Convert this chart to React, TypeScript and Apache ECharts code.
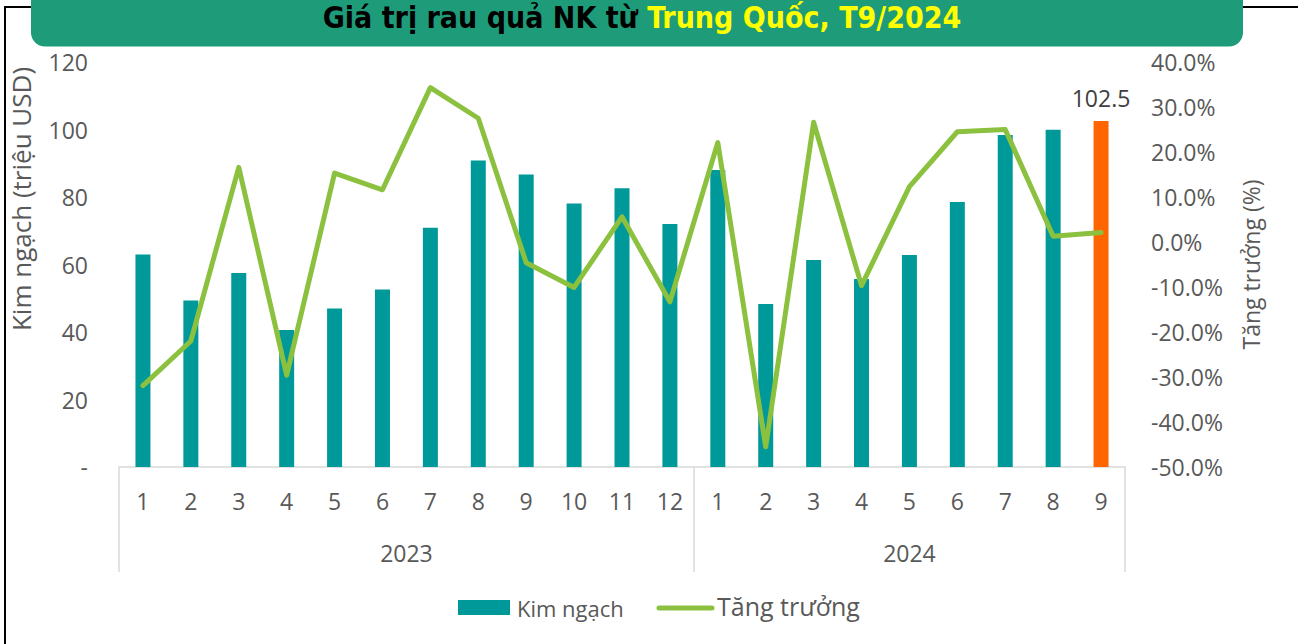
import React, { useEffect, useRef } from "react";
import * as echarts from "echarts";

const months = ["1","2","3","4","5","6","7","8","9","10","11","12","1","2","3","4","5","6","7","8","9"];
const years = ["2023", "2024"];
const yearCounts = [12, 9];
const kimNgach = [63.0, 49.3, 57.5, 40.6, 47.0, 52.6, 70.9, 90.8, 86.7, 78.1, 82.6, 72.0, 88.0, 48.3, 61.3, 55.7, 62.8, 78.5, 98.4, 99.9, 102.5];
const tangTruong = [-31.9, -22.0, 16.6, -29.6, 15.3, 11.6, 34.3, 27.5, -4.6, -10.1, 5.6, -13.3, 22.1, -45.5, 26.6, -9.7, 12.3, 24.5, 25.0, 1.3, 2.1];
const leftTicks = { min: 0, max: 120, interval: 20 };
const rightTicks = { min: -50, max: 40, interval: 10 };

const TEAL = "#009999";
const ORANGE = "#FF6600";
const GREEN = "#8cc13f";
const GREY = "#595959";
const FONT = "'Open Sans', sans-serif";
const TITLE_FONT = "'Liberation Sans Narrow', 'DejaVu Sans Condensed', sans-serif";

export default function App() {
  const ref = useRef<HTMLDivElement>(null);
  useEffect(() => {
    if (!ref.current) return;
    const chart = echarts.init(ref.current, null, { renderer: "svg" });
    const last = kimNgach.length - 1;
    const barData = kimNgach.map((v, i) =>
      i === last
        ? {
            value: v,
            itemStyle: { color: ORANGE },
            label: { show: true, position: "top", distance: 12, color: "#404040", fontSize: 23, fontFamily: FONT },
          }
        : v
    );
    const bounds: number[] = [0];
    const centers: number[] = [];
    let acc = 0;
    yearCounts.forEach((c) => {
      centers.push(acc + c / 2);
      acc += c;
      bounds.push(acc);
    });
    const total = acc;

    chart.setOption({
      animation: false,
      backgroundColor: "#ffffff",
      title: {
        text: "{a|Giá trị rau quả NK từ }{b|Trung Quốc, T9/2024}",
        left: 637,
        top: -3,
        textAlign: "center",
        z: 10,
        textStyle: {
          rich: {
            a: { color: "#000000", fontSize: 30, fontWeight: "bold", fontFamily: TITLE_FONT },
            b: { color: "#FFFF00", fontSize: 30, fontWeight: "bold", fontFamily: TITLE_FONT },
          },
        },
      },
      grid: { left: 119, right: 173, top: 62, bottom: 177, containLabel: false },
      xAxis: [
        {
          type: "category",
          data: months,
          position: "bottom",
          axisLine: { show: true, onZero: false, lineStyle: { color: "#d9d9d9", width: 1.5 } },
          axisTick: { show: false },
          axisLabel: { color: GREY, fontSize: 23, fontFamily: FONT, margin: 22, interval: 0 },
        },
        {
          type: "value",
          min: 0,
          max: total,
          position: "bottom",
          splitLine: { show: false },
          axisLine: { show: false, onZero: false },
          axisTick: { show: true, customValues: bounds, length: 105, lineStyle: { color: "#d9d9d9", width: 1.5 } },
          axisLabel: {
            show: true,
            customValues: centers,
            margin: 74,
            color: GREY,
            fontSize: 23,
            fontFamily: FONT,
            formatter: (v: number) => {
              const idx = centers.findIndex((c) => Math.abs(c - v) < 1e-6);
              return idx >= 0 ? years[idx] : "";
            },
          },
        },
      ],
      yAxis: [
        {
          type: "value",
          ...leftTicks,
          splitLine: { show: false },
          axisLine: { show: false },
          axisTick: { show: false },
          axisLabel: {
            color: GREY,
            fontSize: 23,
            fontFamily: FONT,
            margin: 31,
            formatter: (v: number) => (v === 0 ? "-" : String(v)),
          },
        },
        {
          type: "value",
          ...rightTicks,
          position: "right",
          splitLine: { show: false },
          axisLine: { show: false },
          axisTick: { show: false },
          name: "Tăng trưởng (%)",
          nameLocation: "middle",
          nameRotate: 90,
          nameGap: 114,
          nameTextStyle: { color: GREY, fontSize: 23, fontFamily: FONT },
          axisLabel: {
            color: GREY,
            fontSize: 23,
            fontFamily: FONT,
            margin: 26,
            formatter: (v: number) => v.toFixed(1) + "%",
          },
        },
      ],
      series: [
        {
          name: "Kim ngạch",
          type: "bar",
          xAxisIndex: 0,
          yAxisIndex: 0,
          data: barData,
          barWidth: 15,
          itemStyle: { color: TEAL },
        },
        {
          name: "Tăng trưởng",
          type: "line",
          xAxisIndex: 0,
          yAxisIndex: 1,
          data: tangTruong,
          symbol: "none",
          lineStyle: { color: GREEN, width: 5, cap: "round", join: "round" },
          z: 5,
        },
      ],
      graphic: [
        {
          type: "rect",
          z: -10,
          silent: true,
          shape: { x: 5, y: 7, width: 1400, height: 700 },
          style: { fill: "none", stroke: "#000000", lineWidth: 2 },
        },
        {
          type: "rect",
          z: 1,
          silent: true,
          shape: { x: 31, y: -20, width: 1212, height: 66.5, r: 14 },
          style: { fill: "#1e9c79" },
        },
        {
          type: "text",
          x: 21,
          y: 199,
          rotation: Math.PI / 2,
          style: {
            text: "Kim ngạch (triệu USD)",
            fill: GREY,
            fontSize: 26,
            fontFamily: FONT,
            align: "center",
            verticalAlign: "middle",
          },
        },
        {
          type: "rect",
          shape: { x: 458, y: 600, width: 52, height: 15 },
          style: { fill: TEAL },
        },
        {
          type: "text",
          x: 517,
          y: 608,
          style: { text: "Kim ngạch", fill: GREY, fontSize: 22, fontFamily: FONT, verticalAlign: "middle" },
        },
        {
          type: "line",
          shape: { x1: 659, y1: 608, x2: 712, y2: 608 },
          style: { stroke: GREEN, lineWidth: 5, lineCap: "round" },
        },
        {
          type: "text",
          x: 717,
          y: 606,
          style: { text: "Tăng trưởng", fill: GREY, fontSize: 25, fontFamily: FONT, verticalAlign: "middle" },
        },
      ],
    });
    return () => chart.dispose();
  }, []);
  return (
    <div
      ref={ref}
      style={{ position: "fixed", left: 0, top: 0, width: 1298, height: 644, background: "#fff" }}
    />
  );
}
